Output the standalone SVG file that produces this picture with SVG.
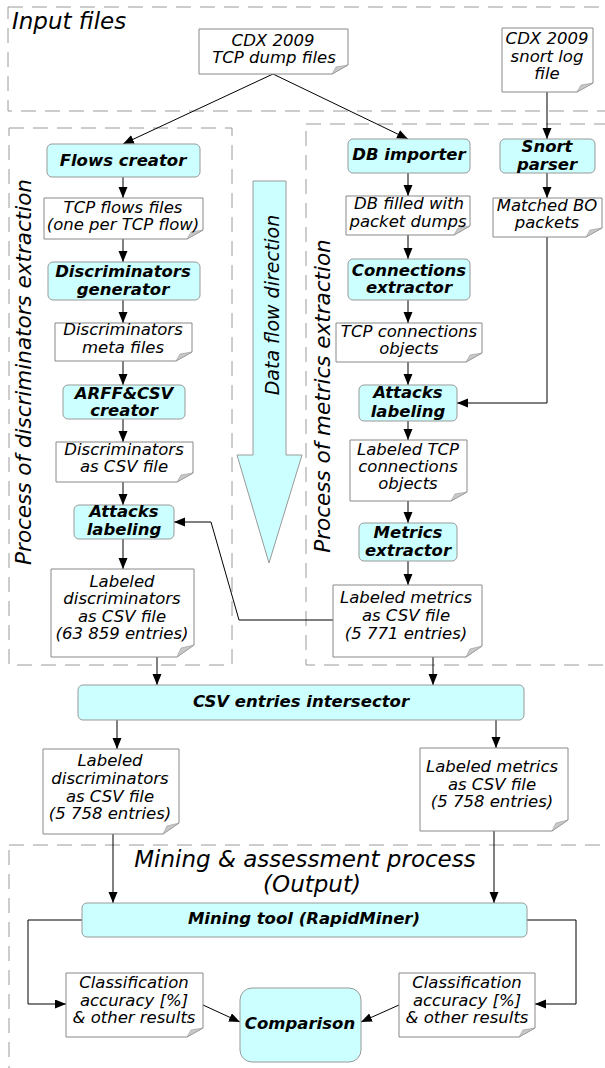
<svg xmlns="http://www.w3.org/2000/svg" width="605" height="1068" viewBox="0 0 605 1068">
<defs>
<marker id="ah" markerUnits="userSpaceOnUse" markerWidth="12" markerHeight="10" refX="11" refY="4.5" orient="auto">
<path d="M0,0 L11,4.5 L0,9 Z" fill="#000"/>
</marker>
<style>
.frame{fill:none;stroke:#9a9a9a;stroke-width:1;stroke-dasharray:15 9}
.proc{fill:#ccffff;stroke:#999;stroke-width:1}
.note{fill:#fff;stroke:#888;stroke-width:1}
.fold{fill:#c8c8c8;stroke:#999;stroke-width:0.6}
.t{font-family:"DejaVu Sans","Liberation Sans",sans-serif;font-style:italic;font-size:16.5px;text-anchor:middle;fill:#000}
.b{font-weight:bold}
.big{font-size:23px}
.lbl{font-size:21.5px}
.edge{fill:none;stroke:#000;stroke-width:1;marker-end:url(#ah)}
.line{fill:none;stroke:#000;stroke-width:1}
</style>
</defs>
<rect width="605" height="1068" fill="#fff"/>

<g id="frames">
<rect class="frame" x="8" y="7" width="610" height="104"/>
<rect class="frame" x="9" y="128" width="223" height="537"/>
<rect class="frame" x="306" y="124" width="310" height="541"/>
<rect class="frame" x="9" y="845" width="610" height="240"/>
</g>

<g id="labels">
<text class="t big" x="12" y="29" style="text-anchor:start">Input files</text>
<text class="t lbl" transform="translate(31,372) rotate(-90)">Process of discriminators extraction</text>
<text class="t lbl" transform="translate(330,396) rotate(-90)">Process of metrics extraction</text>
<text class="t big" x="305" y="867">Mining &amp; assessment process</text>
<text class="t big" x="312" y="892">(Output)</text>
</g>

<g id="dataflow">
<polygon points="253,181 286,181 286,455 302,455 269,563 237,455 253,455" fill="#ccffff" stroke="#999"/>
<text class="t" style="font-size:19px" transform="translate(279,305) rotate(-90)">Data flow direction</text>
</g>

<g id="connectors">
<path class="edge" d="M273,74 L123,144"/>
<path class="edge" d="M273,74 L408,139"/>
<path class="edge" d="M547,92 L547,139"/>
<path class="edge" d="M123,177 V198"/>
<path class="edge" d="M123,239 V262"/>
<path class="edge" d="M123,300 V323"/>
<path class="edge" d="M123,361 V385"/>
<path class="edge" d="M123,419 V442"/>
<path class="edge" d="M123,482 V505"/>
<path class="edge" d="M123,539 V569"/>
<path class="edge" d="M157,657 V685"/>
<path class="edge" d="M408,173 V196"/>
<path class="edge" d="M408,235 V259"/>
<path class="edge" d="M408,300 V323"/>
<path class="edge" d="M408,362 V385"/>
<path class="edge" d="M408,421 V440"/>
<path class="edge" d="M408,501 V523"/>
<path class="edge" d="M408,561 V585"/>
<path class="edge" d="M433,657 V685"/>
<path class="edge" d="M547,173 V198"/>
<path class="edge" d="M547,237 V403 H457"/>
<path class="edge" d="M333,620 H239 L211,522 H174"/>
<path class="edge" d="M117,720 V749"/>
<path class="edge" d="M496,720 V748"/>
<path class="edge" d="M113,834 V903"/>
<path class="edge" d="M494,831 V903"/>
<path class="edge" d="M82,920 H28 V1004 H66"/>
<path class="edge" d="M527,920 H576 V1004 H535"/>
<path class="edge" d="M203,1005 L240,1022"/>
<path class="edge" d="M399,1005 L361,1022"/>
</g>

<g id="n-tcpdump">
<path class="note" d="M199,29 H348 V65 L332,74 H199 Z"/><path class="fold" d="M332,74 L348,65 L336,67 Z"/>
<text class="t" x="273" y="46">CDX 2009</text><text class="t" x="274" y="63">TCP dump files</text>
</g>
<g id="n-snortlog">
<path class="note" d="M502,28 H593 V83 L577,92 H502 Z"/><path class="fold" d="M577,92 L593,83 L581,85 Z"/>
<text class="t" x="547" y="44">CDX 2009</text><text class="t" x="547" y="62">snort log</text><text class="t" x="547" y="79">file</text>
</g>

<g id="n-flows">
<rect class="proc" x="47" y="144" width="153" height="33" rx="5"/>
<text class="t b" x="123" y="166">Flows creator</text>
</g>
<g id="n-tcpflows">
<path class="note" d="M44,198 H203 V230 L187,239 H44 Z"/><path class="fold" d="M187,239 L203,230 L191,232 Z"/>
<text class="t" x="123" y="213">TCP flows files</text><text class="t" x="123" y="230">(one per TCP flow)</text>
</g>
<g id="n-discgen">
<rect class="proc" x="48" y="262" width="152" height="38" rx="5"/>
<text class="t b" x="123" y="277">Discriminators</text><text class="t b" x="123" y="295">generator</text>
</g>
<g id="n-discmeta">
<path class="note" d="M55,323 H192 V352 L176,361 H55 Z"/><path class="fold" d="M176,361 L192,352 L180,354 Z"/>
<text class="t" x="123" y="335">Discriminators</text><text class="t" x="123" y="353">meta files</text>
</g>
<g id="n-arff">
<rect class="proc" x="63" y="385" width="122" height="34" rx="5"/>
<text class="t b" x="124" y="399">ARFF&amp;CSV</text><text class="t b" x="124" y="416">creator</text>
</g>
<g id="n-disccsv">
<path class="note" d="M56,442 H193 V473 L177,482 H56 Z"/><path class="fold" d="M177,482 L193,473 L181,475 Z"/>
<text class="t" x="124" y="455">Discriminators</text><text class="t" x="124" y="472">as CSV file</text>
</g>
<g id="n-attackL">
<rect class="proc" x="74" y="505" width="100" height="34" rx="5"/>
<text class="t b" x="124" y="517">Attacks</text><text class="t b" x="124" y="535">labeling</text>
</g>
<g id="n-labdisc">
<path class="note" d="M51,569 H194 V645 L177,657 H51 Z"/><path class="fold" d="M177,657 L194,645 L181,648 Z"/>
<text class="t" x="122" y="587">Labeled</text><text class="t" x="122" y="604">discriminators</text><text class="t" x="122" y="622">as CSV file</text><text class="t" x="122" y="639">(63 859 entries)</text>
</g>

<g id="n-dbimp">
<rect class="proc" x="348" y="139" width="122" height="34" rx="5"/>
<text class="t b" x="409" y="160">DB importer</text>
</g>
<g id="n-dbfilled">
<path class="note" d="M346,196 H470 V226 L454,235 H346 Z"/><path class="fold" d="M454,235 L470,226 L458,228 Z"/>
<text class="t" x="409" y="209">DB filled with</text><text class="t" x="408" y="227">packet dumps</text>
</g>
<g id="n-connext">
<rect class="proc" x="348" y="259" width="122" height="41" rx="5"/>
<text class="t b" x="409" y="276">Connections</text><text class="t b" x="409" y="293">extractor</text>
</g>
<g id="n-tcpconn">
<path class="note" d="M336,323 H482 V353 L466,362 H336 Z"/><path class="fold" d="M466,362 L482,353 L470,355 Z"/>
<text class="t" x="409" y="337">TCP connections</text><text class="t" x="409" y="354">objects</text>
</g>
<g id="n-attackR">
<rect class="proc" x="359" y="385" width="98" height="36" rx="5"/>
<text class="t b" x="408" y="398">Attacks</text><text class="t b" x="408" y="417">labeling</text>
</g>
<g id="n-labtcp">
<path class="note" d="M350,440 H467 V492 L451,501 H350 Z"/><path class="fold" d="M451,501 L467,492 L455,494 Z"/>
<text class="t" x="408" y="455">Labeled TCP</text><text class="t" x="408" y="472">connections</text><text class="t" x="408" y="489">objects</text>
</g>
<g id="n-metext">
<rect class="proc" x="359" y="523" width="98" height="38" rx="5"/>
<text class="t b" x="408" y="538">Metrics</text><text class="t b" x="408" y="556">extractor</text>
</g>
<g id="n-labmet">
<path class="note" d="M333,585 H482 V646 L466,657 H333 Z"/><path class="fold" d="M466,657 L482,646 L470,649 Z"/>
<text class="t" x="406" y="603">Labeled metrics</text><text class="t" x="406" y="621">as CSV file</text><text class="t" x="406" y="639">(5 771 entries)</text>
</g>

<g id="n-snortparser">
<rect class="proc" x="500" y="139" width="95" height="34" rx="5"/>
<text class="t b" x="547" y="152">Snort</text><text class="t b" x="547" y="170">parser</text>
</g>
<g id="n-matched">
<path class="note" d="M493,198 H602 V228 L586,237 H493 Z"/><path class="fold" d="M586,237 L602,228 L590,230 Z"/>
<text class="t" x="547" y="211">Matched BO</text><text class="t" x="547" y="228">packets</text>
</g>

<g id="n-csvint">
<rect class="proc" x="78" y="685" width="446" height="35" rx="5"/>
<text class="t b" x="301" y="707">CSV entries intersector</text>
</g>
<g id="n-labdisc2">
<path class="note" d="M43,749 H179 V823 L163,834 H43 Z"/><path class="fold" d="M163,834 L179,823 L167,826 Z"/>
<text class="t" x="110" y="766">Labeled</text><text class="t" x="110" y="784">discriminators</text><text class="t" x="110" y="802">as CSV file</text><text class="t" x="110" y="819">(5 758 entries)</text>
</g>
<g id="n-labmet2">
<path class="note" d="M420,748 H568 V820 L552,831 H420 Z"/><path class="fold" d="M552,831 L568,820 L556,823 Z"/>
<text class="t" x="492" y="772">Labeled metrics</text><text class="t" x="492" y="790">as CSV file</text><text class="t" x="492" y="807">(5 758 entries)</text>
</g>

<g id="n-mining">
<rect class="proc" x="82" y="903" width="445" height="34" rx="5"/>
<text class="t b" x="304" y="924">Mining tool (RapidMiner)</text>
</g>
<g id="n-classL">
<path class="note" d="M66,973 H203 V1028 L187,1037 H66 Z"/><path class="fold" d="M187,1037 L203,1028 L191,1030 Z"/>
<text class="t" x="134" y="988">Classification</text><text class="t" x="134" y="1006">accuracy [%]</text><text class="t" x="134" y="1023">&amp; other results</text>
</g>
<g id="n-classR">
<path class="note" d="M399,973 H535 V1028 L519,1037 H399 Z"/><path class="fold" d="M519,1037 L535,1028 L523,1030 Z"/>
<text class="t" x="467" y="988">Classification</text><text class="t" x="467" y="1006">accuracy [%]</text><text class="t" x="467" y="1023">&amp; other results</text>
</g>
<g id="n-comparison">
<rect class="proc" x="240" y="988" width="121" height="74" rx="12"/>
<text class="t b" x="300" y="1029">Comparison</text>
</g>
</svg>
